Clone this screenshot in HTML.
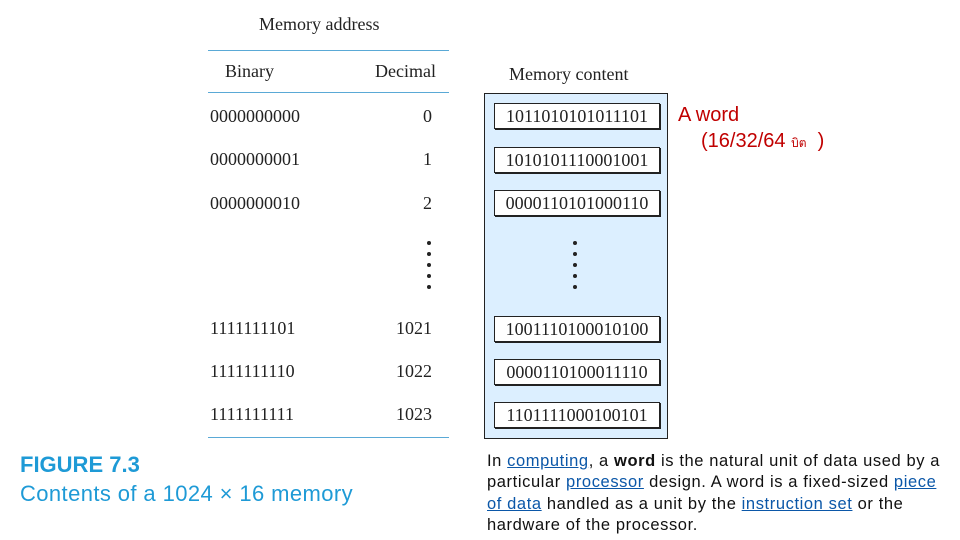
<!DOCTYPE html>
<html><head><meta charset="utf-8"><style>
body{margin:0;width:960px;height:540px;background:#fff;position:relative;overflow:hidden;font-family:"Liberation Serif",serif;color:#222}
.a{position:absolute;white-space:nowrap}
.s{font-size:18px}
.rule{position:absolute;left:208px;width:241px;height:1px;background:#5aa9d6}
.cell{position:absolute;left:494px;width:164px;height:24px;border:1px solid #222;background:#fff;font-size:18px;text-align:center;line-height:24px;box-shadow:1px 1px 0 #222}
.dot{position:absolute;width:4px;height:4px;border-radius:2px;background:#222}
.p{position:absolute;left:487px;top:451px;width:470px;font-family:"Liberation Sans",sans-serif;font-size:16.5px;letter-spacing:0.6px;line-height:21.3px;color:#111;white-space:nowrap}
.p u{color:#0b57a8}
</style></head><body>
<div class="a s" style="left:259px;top:14px">Memory address</div>
<div class="rule" style="top:50px"></div>
<div class="rule" style="top:92px"></div>
<div class="rule" style="top:437px"></div>
<div class="a s" style="left:225px;top:61px">Binary</div>
<div class="a s" style="left:375px;top:61px">Decimal</div>
<div class="a s" style="left:509px;top:64px">Memory content</div>

<div class="a s" style="left:210px;top:106px">0000000000</div><div class="a s" style="left:423px;top:106px">0</div>
<div class="a s" style="left:210px;top:149px">0000000001</div><div class="a s" style="left:423px;top:149px">1</div>
<div class="a s" style="left:210px;top:193px">0000000010</div><div class="a s" style="left:423px;top:193px">2</div>
<div class="a s" style="left:210px;top:318px">1111111101</div><div class="a s" style="left:396px;top:318px">1021</div>
<div class="a s" style="left:210px;top:361px">1111111110</div><div class="a s" style="left:396px;top:361px">1022</div>
<div class="a s" style="left:210px;top:404px">1111111111</div><div class="a s" style="left:396px;top:404px">1023</div>

<div class="dot" style="left:427px;top:241px"></div><div class="dot" style="left:427px;top:252px"></div><div class="dot" style="left:427px;top:263px"></div><div class="dot" style="left:427px;top:274px"></div><div class="dot" style="left:427px;top:285px"></div>

<div style="position:absolute;left:484px;top:93px;width:182px;height:344px;border:1px solid #222;background:#dcefff"></div>
<div class="cell" style="top:103px">1011010101011101</div>
<div class="cell" style="top:147px">1010101110001001</div>
<div class="cell" style="top:190px">0000110101000110</div>
<div class="cell" style="top:316px">1001110100010100</div>
<div class="cell" style="top:359px">0000110100011110</div>
<div class="cell" style="top:402px">1101111000100101</div>
<div class="dot" style="left:573px;top:241px"></div><div class="dot" style="left:573px;top:252px"></div><div class="dot" style="left:573px;top:263px"></div><div class="dot" style="left:573px;top:274px"></div><div class="dot" style="left:573px;top:285px"></div>

<div class="a" style="left:678px;top:104px;font-family:'Liberation Sans',sans-serif;font-size:20px;color:#c00000">A word</div>
<div class="a" style="left:701px;top:130px;font-family:'Liberation Sans',sans-serif;font-size:20px;color:#c00000">(16/32/64 <span style="font-size:12px">บิต</span>&nbsp; )</div>

<div class="a" style="left:20px;top:452px;font-family:'Liberation Sans',sans-serif;font-weight:bold;font-size:22px;color:#1e9ad6">FIGURE 7.3</div>
<div class="a" style="left:20px;top:481px;font-family:'Liberation Sans',sans-serif;font-size:22px;letter-spacing:0.4px;color:#1e9ad6">Contents of a 1024 × 16 memory</div>

<div class="p">In <u>computing</u>, a <b>word</b> is the natural unit of data used by a<br>particular <u>processor</u> design. A word is a fixed-sized <u>piece</u><br><u>of data</u> handled as a unit by the <u>instruction set</u> or the<br>hardware of the processor.</div>
</body></html>
